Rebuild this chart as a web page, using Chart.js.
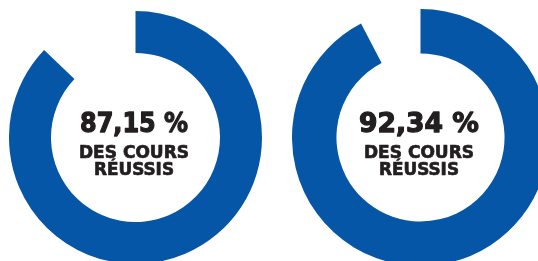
<!DOCTYPE html>
<html lang="fr">
<head>
<meta charset="utf-8">
<script src="https://cdn.jsdelivr.net/npm/chart.js@4"></script>
<style>
    html, body { margin: 0; padding: 0; background: #ffffff; }
    body { width: 538px; height: 261px; overflow: hidden; position: relative; }
    canvas { position: absolute; }
    #chart-left { left: 9px; top: 11px; }
    #chart-right { left: 292px; top: 9px; }
</style>
</head>
<body>
<canvas id="chart-left" width="253" height="253"></canvas>
<canvas id="chart-right" width="257" height="257"></canvas>
<script>
// Data
const categories = ['Cours réussis', 'Cours non réussis'];
const leftValues = [87.15, 12.85];
const rightValues = [92.34, 7.66];
const leftLabel = '87,15 %';
const rightLabel = '92,34 %';
const subLabels = ['DES COURS', 'RÉUSSIS'];

const blue = '#0556a6';
const textColor = '#231f20';

// text squeezed/stretched to a given width, a thin stroke makes it heavier
function fitText(ctx, text, x, y, width) {
    const w = ctx.measureText(text).width;
    ctx.save();
    ctx.translate(x, y);
    ctx.scale(width / w, 1);
    ctx.fillText(text, 0, 0);
    ctx.strokeText(text, 0, 0);
    ctx.restore();
}

// Draw the text in the middle of the ring
const centerText = {
    id: 'centerText',
    afterDraw(chart, args, opts) {
        const { ctx, chartArea } = chart;
        const cx = (chartArea.left + chartArea.right) / 2 - 1.5;
        const cy = (chartArea.top + chartArea.bottom) / 2;
        ctx.save();
        ctx.fillStyle = textColor;
        ctx.strokeStyle = textColor;
        ctx.lineJoin = 'round';
        ctx.textAlign = 'center';
        ctx.textBaseline = 'alphabetic';
        ctx.lineWidth = 1.3;
        ctx.font = 'bold 27px "DejaVu Sans"';
        fitText(ctx, opts.text, cx, cy - 5.5, opts.width);
        ctx.lineWidth = 0.7;
        ctx.font = 'bold 17px "DejaVu Sans"';
        fitText(ctx, subLabels[0], cx, cy + 20.5, 110);
        fitText(ctx, subLabels[1], cx, cy + 37, 80);
        ctx.restore();
    }
};

function makeRing(id, values, label, cutout, textWidth) {
    new Chart(document.getElementById(id), {
        type: 'doughnut',
        data: {
            labels: categories,
            datasets: [{
                data: values,
                backgroundColor: [blue, 'rgba(0,0,0,0)'],
                borderWidth: 0,
                hoverOffset: 0
            }]
        },
        options: {
            responsive: false,
            animation: false,
            devicePixelRatio: 1,
            cutout: cutout,
            layout: { padding: 0 },
            plugins: {
                legend: { display: false },
                tooltip: { enabled: false },
                centerText: { text: label, width: textWidth }
            }
        },
        plugins: [centerText]
    });
}

makeRing('chart-left', leftValues, leftLabel, '66.8%', 108);
makeRing('chart-right', rightValues, rightLabel, '65.4%', 120);
</script>
</body>
</html>
